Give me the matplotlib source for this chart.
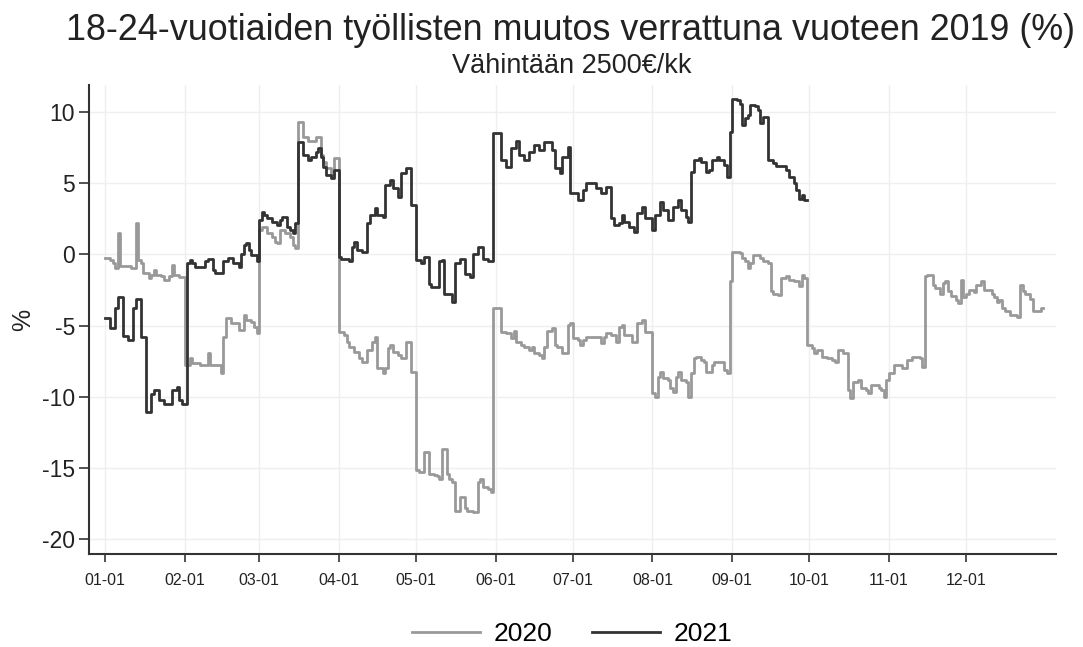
import numpy as np
import matplotlib
matplotlib.use('Agg')
import matplotlib.pyplot as plt

plt.rcParams['font.family'] = ['Liberation Sans', 'DejaVu Sans']
plt.rcParams['axes.unicode_minus'] = False

# 2020: day of year where value changes, value (%)
paivat20 = [0, 2, 3, 4, 5, 6, 10, 12, 13, 14, 15, 17, 18, 19, 20, 22, 23, 25, 26, 27,
            29, 31, 33, 34, 37, 40, 41, 45, 46, 47, 49, 52, 54, 55, 57, 58, 59, 60, 61, 63,
            65, 66, 67, 68, 70, 72, 73, 74, 75, 77, 79, 82, 84, 85, 86, 88, 89, 91, 93, 94,
            95, 97, 99, 100, 102, 104, 105, 106, 108, 109, 110, 111, 112, 114, 115, 117, 119, 121, 122, 124,
            126, 128, 129, 130, 131, 133, 134, 135, 136, 138, 140, 141, 143, 145, 146, 147, 149, 150, 151, 154,
            156, 158, 159, 160, 162, 163, 165, 166, 167, 169, 170, 171, 172, 174, 175, 176, 178, 180, 181, 182,
            184, 185, 186, 187, 193, 194, 195, 197, 199, 200, 201, 202, 205, 207, 209, 210, 213, 214, 215, 216,
            217, 219, 220, 221, 222, 223, 224, 226, 227, 228, 229, 230, 232, 233, 234, 236, 237, 241, 242, 243,
            244, 247, 248, 249, 250, 251, 252, 255, 256, 258, 259, 260, 262, 263, 265, 266, 268, 270, 271, 272,
            273, 275, 276, 277, 279, 281, 283, 284, 285, 287, 289, 290, 291, 293, 294, 296, 297, 298, 301, 302,
            303, 304, 305, 307, 310, 312, 314, 317, 318, 319, 320, 322, 323, 325, 326, 327, 328, 329, 331, 332,
            333, 334, 335, 336, 338, 339, 341, 342, 345, 346, 347, 348, 349, 350, 352, 355, 356, 357, 358, 360,
            361, 364, 365]
arvot20 = [-0.25, -0.4, -0.6, -0.95, 1.5, -0.85, -0.95, 2.2, -0.4, -0.6, -1.3, -1.65, -1.45, -1.1, -1.45, -1.55, -1.8, -1.55, -0.75, -1.45,
           -1.6, -7.8, -7.3, -7.65, -7.8, -6.95, -7.8, -8.3, -5.8, -4.5, -4.85, -5.3, -4.25, -4.6, -4.75, -5.1, -5.55, 1.7, 1.95, 1.5,
           1.25, 0.9, 0.8, 1.7, 1.5, 1.25, 0.65, 0.45, 9.3, 8.25, 8.0, 8.25, 7.0, 6.5, 6.05, 5.55, 6.75, -5.45, -5.65, -6.15,
           -6.5, -6.85, -7.3, -7.55, -6.7, -6.15, -5.8, -8.0, -8.35, -8.0, -6.6, -6.4, -6.85, -7.1, -7.3, -6.15, -8.25, -15.15, -15.3, -13.9,
           -15.4, -15.5, -15.6, -15.75, -13.65, -15.4, -15.75, -16.0, -18.0, -17.05, -17.85, -18.0, -18.1, -16.0, -15.75, -16.35, -16.45, -16.7, -3.8, -5.45,
           -5.55, -5.9, -5.35, -6.15, -6.4, -6.5, -6.75, -6.5, -6.95, -7.1, -7.3, -6.5, -5.35, -5.2, -6.4, -6.5, -6.95, -4.95, -4.85, -5.9,
           -6.0, -6.4, -6.0, -5.8, -6.25, -5.8, -5.55, -5.65, -6.15, -5.1, -4.95, -5.65, -6.15, -4.85, -4.6, -5.45, -9.75, -10.0, -8.6, -8.25,
           -8.7, -8.85, -9.4, -9.65, -8.6, -8.25, -8.85, -8.95, -10.0, -8.35, -7.3, -7.2, -7.45, -7.55, -8.25, -7.8, -7.55, -8.1, -8.35, -1.9,
           0.2, 0.1, -0.25, -0.5, -0.95, -0.6, -0.05, -0.25, -0.5, -0.6, -2.6, -2.75, -2.85, -1.65, -1.55, -1.8, -1.9, -2.25, -1.45, -1.65,
           -6.4, -6.6, -6.95, -6.75, -7.2, -7.3, -7.45, -7.55, -6.75, -6.95, -9.55, -10.1, -8.95, -8.85, -9.4, -9.55, -9.75, -9.2, -9.4, -9.55,
           -10.0, -8.85, -8.35, -7.8, -8.0, -7.45, -7.2, -7.3, -7.9, -1.55, -1.45, -2.15, -2.35, -2.75, -2.0, -1.9, -2.6, -2.9, -3.2, -3.45,
           -1.8, -3.0, -2.75, -2.5, -2.65, -2.15, -1.9, -2.5, -2.75, -3.0, -3.35, -3.2, -3.8, -3.95, -4.25, -4.4, -2.15, -2.6, -2.75, -3.1,
           -3.95, -3.8, -3.8]

# 2021
paivat21 = [0, 2, 4, 5, 7, 9, 11, 12, 14, 16, 18, 19, 21, 23, 26, 28, 29, 30, 32, 33,
            34, 35, 39, 40, 42, 43, 46, 48, 50, 52, 53, 54, 55, 56, 57, 59, 60, 61, 62, 63,
            65, 67, 68, 69, 71, 72, 73, 74, 75, 77, 79, 80, 82, 83, 84, 85, 86, 88, 89, 91,
            92, 95, 96, 97, 98, 100, 102, 103, 105, 106, 108, 109, 111, 112, 114, 115, 117, 119, 121, 123,
            124, 126, 127, 130, 131, 132, 135, 136, 138, 140, 142, 143, 145, 147, 149, 151, 154, 156, 158, 160,
            161, 163, 165, 167, 169, 171, 174, 175, 177, 178, 180, 181, 184, 186, 187, 191, 193, 195, 197, 198,
            200, 201, 202, 204, 206, 207, 209, 210, 213, 214, 216, 217, 219, 221, 223, 224, 226, 227, 228, 229,
            231, 232, 234, 235, 236, 238, 239, 241, 242, 243, 244, 246, 247, 248, 249, 250, 251, 253, 254, 255,
            256, 258, 260, 261, 265, 266, 268, 269, 270, 271, 272, 273]
arvot21 = [-4.5, -5.2, -3.8, -3.0, -5.75, -6.0, -3.8, -3.1, -5.8, -11.1, -9.8, -9.5, -10.2, -10.5, -9.5, -9.3, -10.2, -10.5, -0.6, -0.4,
           -0.6, -0.9, -0.5, -0.3, -1.1, -1.3, -0.5, -0.26, -0.6, -0.87, 0.0, 0.65, 0.8, 0.3, -0.05, -0.5, 2.4, 3.0, 2.75, 2.55,
           2.3, 2.05, 2.4, 2.65, 1.95, 1.7, 1.5, 2.2, 7.9, 7.0, 6.6, 6.85, 7.2, 7.45, 6.85, 6.15, 5.6, 5.35, 5.9, -0.15,
           -0.35, -0.5, 0.55, 0.9, 0.3, 0.2, 2.2, 2.75, 3.25, 2.75, 2.6, 4.9, 5.25, 4.65, 4.05, 5.7, 6.05, 3.45, -0.4, -0.6,
           -0.15, -2.05, -2.3, -0.5, -0.4, -2.75, -3.35, -0.6, -0.3, -1.35, -1.6, 0.05, 0.55, -0.3, -0.5, 8.5, 6.6, 6.15, 7.45, 8.0,
           7.0, 6.6, 7.2, 7.7, 7.3, 7.9, 7.3, 6.05, 5.7, 6.85, 7.55, 4.3, 3.8, 4.5, 5.0, 4.65, 4.3, 4.75, 2.55, 2.05,
           2.2, 2.75, 2.3, 1.95, 1.6, 2.9, 3.35, 2.55, 1.7, 2.75, 3.7, 3.1, 2.4, 3.35, 3.8, 3.1, 2.65, 2.3, 5.8, 6.6,
           6.75, 6.5, 5.8, 5.9, 6.6, 6.85, 6.6, 6.25, 5.45, 8.6, 10.95, 10.85, 10.6, 9.1, 9.6, 9.8, 10.5, 10.4, 10.15, 9.2,
           9.65, 6.6, 6.4, 6.2, 5.9, 5.45, 5.0, 4.5, 3.9, 4.15, 3.8, 3.8]

tick_paivat = [0, 31, 60, 91, 121, 152, 182, 213, 244, 274, 305, 335]
tick_nimet = ['01-01', '02-01', '03-01', '04-01', '05-01', '06-01',
              '07-01', '08-01', '09-01', '10-01', '11-01', '12-01']

fig = plt.figure(figsize=(10.83, 6.47), dpi=100)
ax = fig.add_axes([89/1083, 1 - 554/647, (1056-89)/1083, (554-85)/647])

ax.step(paivat20, arvot20, where='post', color='#999999', lw=2.0, label='2020')
ax.step(paivat21, arvot21, where='post', color='#333333', lw=2.0, label='2021')

ax.set_xlim(-6.2, 370)
ax.set_ylim(-21.05, 11.9)
ax.set_yticks([-20, -15, -10, -5, 0, 5, 10])
ax.set_xticks(tick_paivat)
ax.set_xticklabels(tick_nimet, fontsize=11.5)
ax.tick_params(axis='y', labelsize=16.5, length=7, width=1.2, color='#333333', pad=3, labelcolor='#222222')
ax.tick_params(axis='x', length=6, width=1.2, color='#333333', pad=8, labelcolor='#222222')
ax.grid(True, color='#efefef', lw=1)
ax.set_axisbelow(True)
for s in ['top', 'right']:
    ax.spines[s].set_visible(False)
for s in ['left', 'bottom']:
    ax.spines[s].set_color('#333333')
    ax.spines[s].set_linewidth(1.5)
ax.set_ylabel('%', fontsize=18, color='#222222')
ax.yaxis.set_label_coords(-0.056, 0.5)

fig.text(571/1083, 1 - 31/647, '18-24-vuotiaiden työllisten muutos verrattuna vuoteen 2019 (%)',
         ha='center', va='center', fontsize=25.8, color='#222222')
fig.text(572/1083, 1 - 66/647, 'Vähintään 2500€/kk', ha='center', va='center', fontsize=19.5, color='#222222')

fig.legend(loc='center', bbox_to_anchor=(572/1083, 1 - 634/647), ncol=2, frameon=False,
           fontsize=19, handlelength=2.6, handletextpad=0.5, columnspacing=1.5)

plt.savefig('out.png', dpi=100)
